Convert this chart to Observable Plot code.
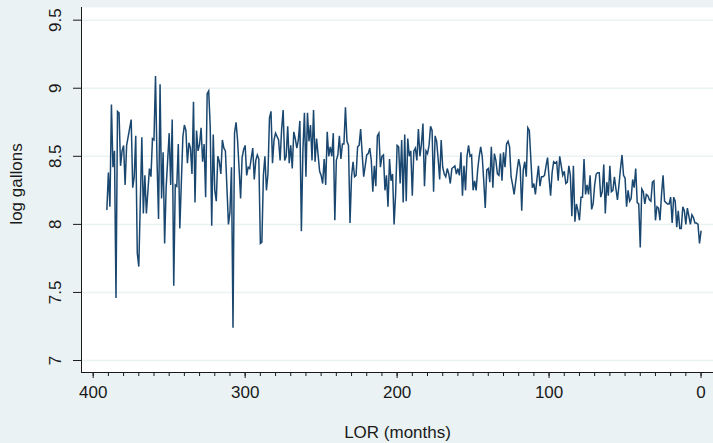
<!DOCTYPE html>
<html>
<head>
<meta charset="utf-8">
<script src="https://cdn.jsdelivr.net/npm/d3@7"></script>
<script src="https://cdn.jsdelivr.net/npm/@observablehq/plot@0.6"></script>
<style>
  html, body { margin: 0; padding: 0; background: #eaf2f3; }
  #chart svg { display: block; }
</style>
</head>
<body>
<div id="chart"></div>
<script>
// LOR (months) for each observation
const months = [
  391,390,389,388,387,386,385,384,383,382,381,380,379,378,
  375,374,373,372,371,370,
  368,367,366,365,
  363,362,361,360,359,358,357,356,355,354,353,352,
  350,349,348,347,346,345,344,343,
  341,340,339,338,337,336,335,334,333,332,
  331,330,329,328,327,326,325,324,323,322,
  321,320,319,318,317,316,315,314,313,312,
  311,310,309,308,307,306,305,304,303,302,
  301,300,299,298,
  297,
  295,294,293,292,291,290,289,288,287,286,285,284,283,282,281,280,
  278,277,276,275,274,273,272,271,270,269,
  268,267,266,265,264,263,262,261,260,259,
  258,257,256,255,254,253,252,251,250,249,
  248,247,246,245,244,243,242,241,240,239,
  238,237,236,235,234,233,232,231,230,229,
  228,227,226,225,224,223,222,221,220,219,
  218,217,216,215,214,213,212,211,210,209,
  208,207,206,205,204,203,202,201,200,199,
  198,197,196,195,194,193,192,191,190,189,
  188,187,186,185,184,183,182,181,180,179,
  178,177,176,175,174,173,172,171,170,169,
  168,167,166,165,164,163,162,161,160,159,
  158,157,156,155,154,153,152,151,150,149,
  148,147,146,145,144,143,142,141,140,139,
  138,137,136,135,134,133,132,131,130,129,
  128,127,126,125,124,123,
  121,120,119,118,117,116,115,114,113,112,
  111,110,109,108,107,106,105,104,103,102,
  101,100,99,98,97,96,95,94,93,92,
  91,90,89,88,87,86,85,84,83,82,
  81,80,79,78,77,76,75,74,73,72,
  71,70,69,68,67,66,65,64,63,62,
  61,60,59,58,57,56,55,54,53,52,
  51,50,49,48,47,46,45,44,43,42,
  41,40,39,38,37,36,35,34,33,32,
  31,30,29,28,27,26,25,24,23,22,
  21,20,19,18,17,16,15,14,13,12,
  11,10,9,8,7,6,5,4,3,2,
  1,0
];

// log gallons, same order as months
const logGallons = [
  8.11,8.38,8.13,8.88,8.42,8.54,7.46,8.83,8.82,8.43,8.54,8.58,8.29,8.58,
  8.77,8.27,8.35,8.65,7.79,7.69,
  8.64,8.08,8.36,8.08,
  8.41,8.35,8.63,8.62,9.09,8.47,8.04,9.03,8.19,8.53,7.86,8.27,
  8.67,8.29,8.77,7.55,8.29,8.28,8.59,7.97,
  8.64,8.73,8.69,8.45,8.60,8.56,8.37,8.90,8.16,8.69,
  8.54,8.59,8.71,8.46,8.59,8.20,8.96,8.98,8.72,7.99,
  8.66,8.25,8.17,8.50,8.46,8.37,8.62,8.56,8.54,8.27,
  8.00,8.09,8.42,7.24,8.67,8.75,8.62,8.41,8.19,8.49,
  8.55,8.58,8.36,8.42,
  8.41,
  8.56,8.33,8.47,8.51,8.48,7.86,7.87,8.36,8.50,8.25,8.37,8.78,8.83,8.45,8.62,8.67,
  8.62,8.47,8.70,8.84,8.47,8.50,8.72,8.45,8.58,8.41,
  8.68,8.63,8.56,8.62,8.76,7.95,8.54,8.82,8.35,8.82,
  8.61,8.73,8.47,8.84,8.46,8.63,8.51,8.39,8.36,8.30,
  8.48,8.29,8.68,8.50,8.57,8.50,8.67,8.03,8.47,8.51,
  8.65,8.48,8.59,8.59,8.86,8.61,8.58,8.01,8.35,8.46,
  8.35,8.36,8.57,8.58,8.70,8.52,8.35,8.43,8.51,8.52,
  8.56,8.47,8.24,8.43,8.28,8.65,8.67,8.42,8.50,8.51,
  8.25,8.36,8.13,8.48,8.32,8.37,8.00,8.22,8.58,8.57,
  8.30,8.62,8.16,8.66,8.17,8.63,8.50,8.54,8.21,8.54,
  8.56,8.47,8.70,8.50,8.59,8.74,8.28,8.54,8.52,8.58,
  8.72,8.69,8.24,8.65,8.61,8.48,8.33,8.62,8.42,8.37,
  8.35,8.41,8.37,8.30,8.41,8.42,8.43,8.37,8.41,8.36,
  8.53,8.21,8.43,8.25,8.50,8.58,8.50,8.51,8.25,8.32,
  8.25,8.40,8.50,8.57,8.50,8.32,8.12,8.40,8.41,8.31,
  8.57,8.27,8.52,8.47,8.37,8.36,8.52,8.32,8.53,8.42,
  8.59,8.61,8.57,8.35,8.29,8.22,
  8.40,8.48,8.42,8.10,8.40,8.46,8.35,8.71,8.69,8.48,
  8.27,8.30,8.22,8.33,8.43,8.28,8.35,8.35,8.36,8.43,
  8.49,8.34,8.21,8.38,8.46,8.45,8.46,8.32,8.50,8.43,
  8.36,8.39,8.30,8.31,8.43,8.36,8.06,8.43,8.02,8.15,
  8.10,8.03,8.20,8.20,8.48,8.22,8.29,8.22,8.36,8.11,
  8.15,8.29,8.37,8.38,8.38,8.20,8.24,8.44,8.08,8.31,
  8.21,8.43,8.24,8.25,8.35,8.26,8.18,8.29,8.41,8.51,
  8.36,8.34,8.13,8.25,8.17,8.19,8.33,8.27,8.41,8.16,
  8.15,7.83,8.26,8.24,8.15,8.22,8.21,8.18,8.17,8.31,
  8.32,8.03,8.13,8.12,8.03,8.22,8.36,8.17,8.16,8.15,
  8.15,8.20,8.01,8.20,8.17,7.98,8.10,7.97,7.97,8.13,
  8.10,8.00,8.12,8.06,8.00,8.07,8.05,8.01,8.01,8.00,
  7.86,7.95
];

const xTicks = [400, 300, 200, 100, 0];
const xMinorTicks = d3.range(0, 401, 10);
const yTicks = [7, 7.5, 8, 8.5, 9, 9.5];
const xDomain = [407.7, -8.2];
const yDomain = [6.912, 9.593];

const data = months.map((m, i) => ({month: m, value: logGallons[i]}));

const font = "'Liberation Sans', Arial, Helvetica, sans-serif";
const ink = "#1a1a1a";

const chart = Plot.plot({
  width: 713,
  height: 443,
  marginLeft: 81,
  marginRight: 0,
  marginTop: 7,
  marginBottom: 71,
  style: {background: "#eaf2f3", fontFamily: font, fontSize: "17px", color: ink, overflow: "visible"},
  x: {domain: xDomain, axis: null},
  y: {domain: yDomain, axis: null},
  marks: [
    Plot.frame({fill: "white", stroke: null}),
    Plot.gridY(yTicks, {stroke: "#eaf2f3", strokeOpacity: 1, strokeWidth: 1.5}),
    Plot.line(data, {x: "month", y: "value", stroke: "#1a476f", strokeWidth: 1.5, strokeLinejoin: "miter", strokeMiterlimit: 4}),
    // axis lines
    Plot.ruleX([xDomain[0]], {stroke: ink, strokeWidth: 1}),
    Plot.ruleY([yDomain[0]], {stroke: ink, strokeWidth: 1}),
    // ticks
    Plot.axisX(xMinorTicks, {anchor: "bottom", tickSize: 4, tickFormat: () => "", label: null, stroke: ink}),
    Plot.axisX(xTicks, {anchor: "bottom", tickSize: 6, tickFormat: () => "", label: null, stroke: ink}),
    Plot.axisY(yTicks, {anchor: "left", tickSize: 8, tickFormat: () => "", label: null, stroke: ink}),
    // tick labels
    Plot.text(xTicks, {x: d => d, frameAnchor: "bottom", dy: 20, lineAnchor: "middle", text: d => String(d), fontSize: 17, fill: ink}),
    Plot.text(yTicks, {y: d => d, frameAnchor: "left", dx: -26, rotate: -90, textAnchor: "middle", lineAnchor: "middle", text: d => String(d), fontSize: 17, fill: ink}),
    // axis titles
    Plot.text(["LOR (months)"], {frameAnchor: "bottom", dy: 60, lineAnchor: "middle", fontSize: 17, fill: ink}),
    Plot.text(["log gallons"], {frameAnchor: "left", dx: -65, dy: -6, rotate: -90, textAnchor: "middle", lineAnchor: "middle", fontSize: 17, fill: ink})
  ]
});

document.getElementById("chart").appendChild(chart);
</script>
</body>
</html>
